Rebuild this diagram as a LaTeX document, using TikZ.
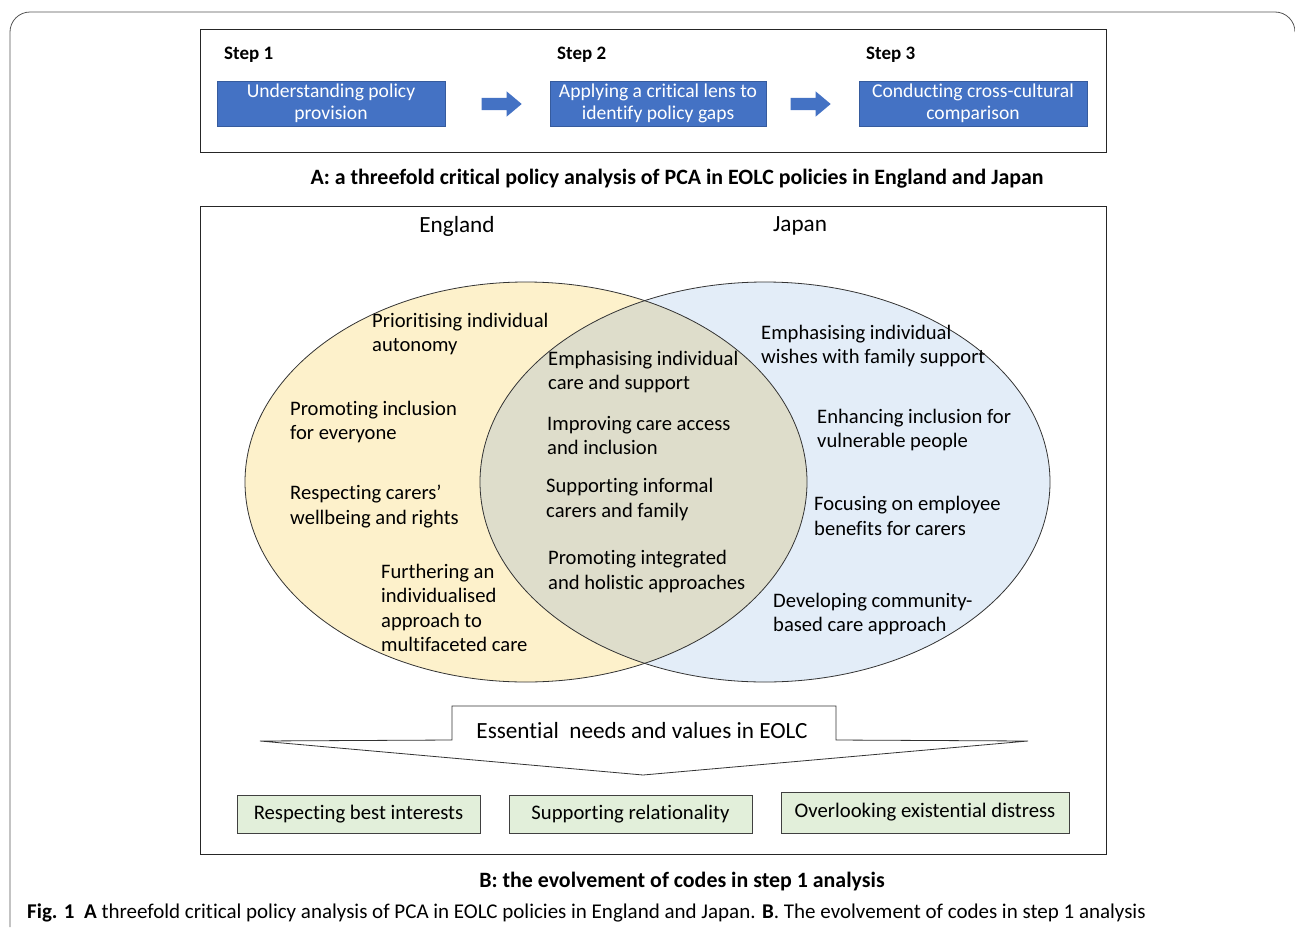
\documentclass[tikz,border=0pt]{standalone}
\usepackage{fontspec}
\setmainfont{Carlito}[Ligatures=NoCommon]
\usetikzlibrary{shapes.arrows,calc}
\definecolor{stepblue}{HTML}{4472C4}
\definecolor{engfill}{HTML}{FDF1CB}
\definecolor{japfill}{HTML}{E3EDF8}
\definecolor{ovfill}{HTML}{DEDDCB}
\definecolor{greenbox}{HTML}{E2EFDA}
\definecolor{framegray}{HTML}{555555}
\tikzset{
  stepbox/.style={fill=stepblue, draw=stepblue!80!black, line width=0.4pt, text=white, align=center,
    minimum height=45pt, inner sep=0, font=\fontsize{19.6}{22}\selectfont},
  steplabel/.style={anchor=west, inner sep=0, font=\bfseries\fontsize{19}{22}\selectfont},
  arr/.style={single arrow, fill=stepblue, draw=none, inner sep=6pt, minimum height=40pt,
    single arrow head extend=6.5pt, single arrow tip angle=80},
  vt/.style={anchor=west, align=left, inner sep=0, font=\fontsize{20.6}{24.6}\selectfont},
  panel/.style={draw=black!85, line width=1pt},
  codebox/.style={fill=greenbox, draw=black!75, line width=0.8pt, minimum height=38pt, inner sep=0,
    font=\fontsize{20.7}{24}\selectfont},
  captionb/.style={inner sep=0, font=\bfseries\fontsize{21.9}{24}\selectfont},
}
\begin{document}
\begin{tikzpicture}[x=1pt,y=-1pt]
\useasboundingbox (0,0) rectangle (1295,929);
% outer frame
\draw[framegray, line width=0.8pt] (10,927) -- (10,32) arc[start angle=180, end angle=90, radius=20pt] -- (1275,12) arc[start angle=90, end angle=0, radius=20pt];
% panel A
\draw[panel] (200,29) rectangle (1106,152);
\node[steplabel] (s1) at (224,55) {Step 1};
\node[steplabel] (s2) at (557,55) {Step 2};
\node[steplabel] (s3) at (866,55) {Step 3};
\node[stepbox, minimum width=228pt] (b1) at (331,103.5) {Understanding policy\\provision};
\node[stepbox, minimum width=216pt] (b2) at (658,103.5) {Applying a critical lens to\\identify policy gaps};
\node[stepbox, minimum width=228pt] (b3) at (973,103.5) {Conducting cross-cultural\\comparison};
\node[arr] (a1) at (498,104) {};
\node[arr] (a2) at (807,104) {};
\node[captionb] (capA) at (677,179) {A: a threefold critical policy analysis of PCA in EOLC policies in England and Japan};
% panel B
\draw[panel] (200,206) rectangle (1106,854);
\node[inner sep=0, font=\fontsize{23.2}{26}\selectfont] (eng) at (457,226) {England};
\node[inner sep=0, font=\fontsize{23.2}{26}\selectfont] (jap) at (800,226) {Japan};
\fill[engfill] (526,482) ellipse [x radius=281pt, y radius=200pt];
\fill[japfill] (765,482) ellipse [x radius=285pt, y radius=200pt];
\begin{scope}
\clip (526,482) ellipse [x radius=281pt, y radius=200pt];
\fill[ovfill] (765,482) ellipse [x radius=285pt, y radius=200pt];
\end{scope}
\draw[black!80, line width=0.8pt] (526,482) ellipse [x radius=281pt, y radius=200pt];
\draw[black!80, line width=0.8pt] (765,482) ellipse [x radius=285pt, y radius=200pt];
% England
\node[vt] (e1) at (372,334) {Prioritising individual\\autonomy};
\node[vt] (e2) at (290,422) {Promoting inclusion\\for everyone};
\node[vt] (e3) at (290,506.5) {Respecting carers’\\wellbeing and rights};
\node[vt] (e4) at (381,608) {Furthering an\\individualised\\approach to\\multifaceted care};
% overlap
\node[vt] (c1) at (548,372) {Emphasising individual\\care and support};
\node[vt] (c2) at (547,435.5) {Improving care access\\and inclusion};
\node[vt] (c3) at (546,499.5) {Supporting informal\\carers and family};
\node[vt] (c4) at (548,571.5) {Promoting integrated\\and holistic approaches};
% Japan
\node[vt] (j1) at (761,346) {Emphasising individual\\wishes with family support};
\node[vt] (j2) at (817,430) {Enhancing inclusion for\\vulnerable people};
\node[vt] (j3) at (814,516) {Focusing on employee\\benefits for carers};
\node[vt] (j4) at (773,614) {Developing community-\\based care approach};
% essential arrow
\draw[black!80, line width=0.8pt, fill=white] (260,741) -- (452,740) -- (452,706) -- (836,706) -- (836,740) -- (1028,741) -- (643,775) -- cycle;
\node[inner sep=0, font=\fontsize{23.2}{26}\selectfont] (ess) at (642,731) {Essential\ \ needs and values in EOLC};
% codes
\node[codebox, minimum width=243pt] (k1) at (358.5,814) {Respecting best interests};
\node[codebox, minimum width=243pt] (k2) at (630.5,814) {Supporting relationality};
\node[codebox, minimum width=288pt, minimum height=41pt] (k3) at (925,812.5) {Overlooking existential distress};
\node[captionb] (capB) at (682,882) {B: the evolvement of codes in step 1 analysis};
\node[anchor=west, inner sep=0, font=\fontsize{21}{24}\selectfont] (fig) at (27,913) {\textbf{Fig. 1}\ \ \textbf{A} threefold critical policy analysis of PCA in EOLC policies in England and Japan. \textbf{B}. The evolvement of codes in step 1 analysis};
\end{tikzpicture}
\end{document}
